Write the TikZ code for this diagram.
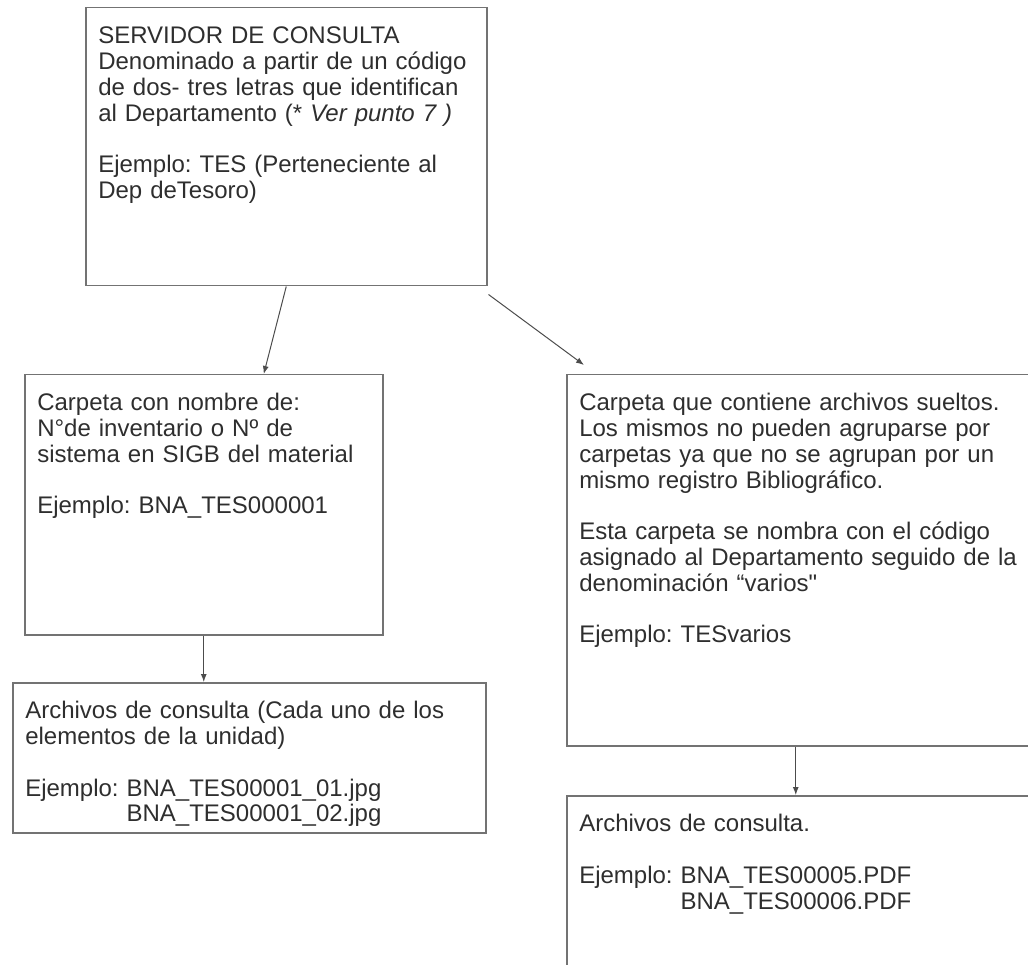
\documentclass[tikz,border=0pt]{standalone}
\usepackage{fontspec}
\newfontfamily\docfont{Liberation Sans}
\usetikzlibrary{arrows.meta}

\begin{document}
\begin{tikzpicture}[
  x=1pt, y=-1pt,
  font=\docfont\fontsize{24}{25.8}\selectfont\frenchspacing,
  box/.style={draw=black!55, line width=1.5pt, text=black!82, anchor=north west,
    align=left, inner xsep=12.5pt, inner ysep=19pt, text height=17pt},
  link/.style={-{Latex[length=8pt,width=6pt]}, line width=1pt, draw=black!70}
]
\useasboundingbox (0,0) rectangle (1028,965);

% Server and the two folder kinds.
\node[box, text width=376pt, text depth=223pt] (srv) at (85,7)
  {SERVIDOR DE CONSULTA\\
   Denominado a partir de un código\\
   de dos- tres letras que identifican\\
   al Departamento (* \textit{Ver punto 7 )}\\[\baselineskip]
   Ejemplo: TES (Perteneciente al\\
   Dep deTesoro)};

\node[box, text width=333pt, text depth=205pt] (carp) at (24,374)
  {Carpeta con nombre de:\\
   N°de inventario o Nº de\\
   sistema en SIGB del material\\[\baselineskip]
   Ejemplo: BNA\_TES000001};

\node[box, text width=449pt, text depth=316pt] (varios) at (566,374)
  {Carpeta que contiene archivos sueltos.\\
   Los mismos no pueden agruparse por\\
   carpetas ya que no se agrupan por un\\
   mismo registro Bibliográfico.\\[\baselineskip]
   Esta carpeta se nombra con el código\\
   asignado al Departamento seguido de la\\
   denominación “varios"\\[\baselineskip]
   Ejemplo: TESvarios};

% Files inside each folder.
\node[box, text width=448pt, text depth=95pt] (arch) at (12,682)
  {Archivos de consulta (Cada uno de los\\
   elementos de la unidad)\\[\baselineskip]
   Ejemplo: BNA\_TES00001\_01.jpg\\
   \hphantom{Ejemplo: }BNA\_TES00001\_02.jpg};

\node[box, text width=449pt, text depth=150pt] (sueltos) at (566,795)
  {Archivos de consulta.\\[\baselineskip]
   Ejemplo: BNA\_TES00005.PDF\\
   \hphantom{Ejemplo: }BNA\_TES00006.PDF};

% Connectors.
\draw[link] (srv.south) -- ([xshift=60pt]carp.north);
\draw[link] ([shift={(1,8)}]srv.south east) -- ([shift={(18,-9)}]varios.north west);
\draw[link] (carp.south) -- (carp.south |- arch.north);
\draw[link] ([xshift=-8pt]varios.south) coordinate (vout) -- (vout |- sueltos.north);

\end{tikzpicture}
\end{document}
